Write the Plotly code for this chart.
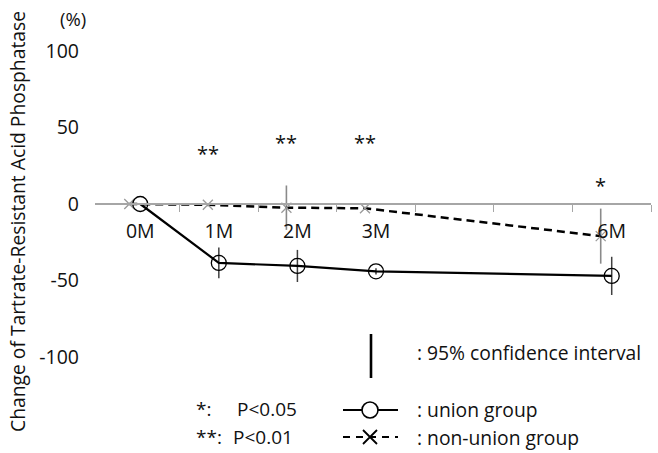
import plotly.graph_objects as go

# ---------------- data ----------------
months = [0, 1, 2, 3, 6]
tick_labels = ["0M", "1M", "2M", "3M", "6M"]
union_change = [0, -38.5, -40.5, -44, -47]
union_ci = [0, 10, 10.5, 2, 12.5]
nonunion_change = [0, -0.5, -2.4, -2.8, -21]
nonunion_ci = [0, 1, 14.5, 1, 18]
sig_months = [1, 2, 3, 6]
sig_marks = ["**", "**", "**", "*"]
sig_y = [33, 40, 40, 12]
category_edges = [0.5, 1.5, 2.5, 3.5, 4.5, 5.5, 6.5]
ytick_vals = [-100, -50, 0, 50, 100]
ytick_text = ["-100", "-50", "0", "50", "100"]
ytick_marks = [50, 100]

# ---------------- layout geometry ----------------
W, H = 658, 453
L, R, T, B = 95, 651, 51, 453
Y_TOP, Y_BOT = 100, -162.75
NONUNION_SHIFT = -0.14
FONT = "Open Sans"


def px(x):
    return (x - L) / (R - L)


def py(y):
    return (B - y) / (B - T)


fig = go.Figure()

fig.add_trace(go.Scatter(
    x=[m + NONUNION_SHIFT for m in months], y=nonunion_change,
    mode="lines+markers",
    line=dict(color="black", width=2.5, dash="8px,5px"),
    marker=dict(symbol="x-thin", size=10, line=dict(color="#9a9a9a", width=1.3)),
    error_y=dict(type="data", array=nonunion_ci, visible=True, color="#8a8a8a",
                 thickness=1.6, width=0),
    cliponaxis=False, showlegend=False,
))
fig.add_trace(go.Scatter(
    x=months, y=union_change,
    mode="lines+markers",
    line=dict(color="black", width=2.2),
    marker=dict(symbol="circle-open", size=15, color="black",
                line=dict(color="black", width=1.3)),
    error_y=dict(type="data", array=union_ci, visible=True, color="#404040",
                 thickness=1.5, width=0),
    cliponaxis=False, showlegend=False,
))

# legend samples on an overlay pixel-axis
fig.add_trace(go.Scatter(
    x=[343, 398], y=[410, 410], xaxis="x2", yaxis="y3", mode="lines",
    line=dict(color="black", width=2.2), showlegend=False, cliponaxis=False))
fig.add_trace(go.Scatter(
    x=[370], y=[410], xaxis="x2", yaxis="y3", mode="markers",
    marker=dict(symbol="circle", size=16, color="white",
                line=dict(color="black", width=1.6)),
    showlegend=False, cliponaxis=False))
fig.add_trace(go.Scatter(
    x=[343, 398], y=[437, 437], xaxis="x2", yaxis="y3", mode="lines",
    line=dict(color="black", width=2.2, dash="7px,6px"), showlegend=False,
    cliponaxis=False))
fig.add_trace(go.Scatter(
    x=[370], y=[437], xaxis="x2", yaxis="y3", mode="markers",
    marker=dict(symbol="x-thin", size=14, line=dict(color="black", width=1.8)),
    showlegend=False, cliponaxis=False))
fig.add_trace(go.Scatter(
    x=[371, 371], y=[334, 378], xaxis="x2", yaxis="y3", mode="lines",
    line=dict(color="black", width=2.6), showlegend=False, cliponaxis=False))

annotations = []
for m, s, yv in zip(sig_months, sig_marks, sig_y):
    annotations.append(dict(x=m + NONUNION_SHIFT, y=yv, xref="x", yref="y",
                            text=s, showarrow=False,
                            font=dict(family=FONT, size=20, color="#111")))


def txt(x, y, s, size=19, anchor="left", angle=0):
    annotations.append(dict(x=px(x), y=py(y), xref="paper", yref="paper",
                            text=s, showarrow=False, xanchor=anchor,
                            yanchor="middle", textangle=angle,
                            font=dict(family=FONT, size=size, color="#111")))


txt(73, 19, "(%)", 18.5, "center")
txt(17, 222, "Change of Tartrate-Resistant Acid Phosphatase", 19.3, "center", -90)
txt(415, 352, ": 95% confidence interval", 19.3)
txt(194, 409, "*:", 19)
txt(235, 409, "P<0.05", 19)
txt(194, 437, "**:", 19)
txt(231, 437, "P<0.01", 19)
txt(415, 409, ": union group", 19.3)
txt(415, 437, ": non-union group", 19.3)

fig.update_layout(
    width=W, height=H,
    margin=dict(l=L, r=W - R, t=T, b=H - B, pad=0),
    paper_bgcolor="white", plot_bgcolor="white",
    font=dict(family=FONT, size=19, color="#111"),
    xaxis=dict(
        range=[-0.576, 6.5], anchor="free", position=(0 - Y_BOT) / (Y_TOP - Y_BOT),
        showline=True, linecolor="#a6a6a6", linewidth=1.5,
        showgrid=False, zeroline=False,
        tickmode="array", tickvals=months, ticktext=tick_labels,
        ticks="", ticklabelstandoff=10,
        tickfont=dict(family=FONT, size=19.5, color="#111"),
        minor=dict(tickmode="array", tickvals=category_edges, ticks="outside",
                   ticklen=7, tickcolor="#a6a6a6", tickwidth=1.2, showgrid=False),
    ),
    yaxis=dict(
        range=[Y_BOT, Y_TOP], showline=False, showgrid=False, zeroline=False,
        tickmode="array", tickvals=ytick_vals, ticktext=ytick_text, ticks="",
        ticklabelstandoff=15,
        tickfont=dict(family=FONT, size=19.5, color="#111"),
    ),
    yaxis2=dict(
        range=[Y_BOT, Y_TOP], overlaying="y", side="left", anchor="x",
        showline=False, showgrid=False, zeroline=False,
        tickmode="array", tickvals=ytick_marks, ticks="inside", ticklen=7,
        tickcolor="#a6a6a6", tickwidth=1.2, showticklabels=False,
    ),
    xaxis2=dict(range=[L, R], overlaying="x", anchor="y3", visible=False),
    yaxis3=dict(range=[B, T], overlaying="y", anchor="x2", visible=False),
    annotations=annotations,
)

fig.write_html("out.html")
